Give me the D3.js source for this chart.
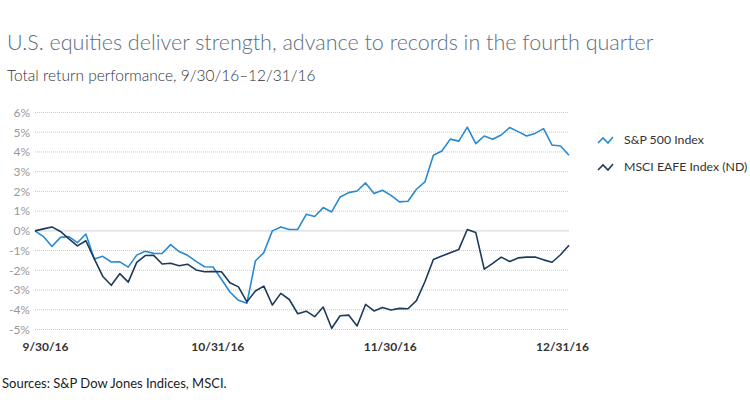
<!DOCTYPE html>
<html>
<head>
<meta charset="utf-8">
<script src="https://cdn.jsdelivr.net/npm/d3@7"></script>
<style>
  body { margin: 0; background: #fff; }
  svg { display: block; font-family: Lato, "Open Sans", sans-serif; }
</style>
</head>
<body>
<div id="chart"></div>
<script>
// chart data, one value per trading day from 9/30/16 to 12/30/16
var seriesNames = ["S&P 500 Index", "MSCI EAFE Index (ND)"];
var seriesColors = ["#2a8ad0", "#1b3a5c"];

var sp500 = [0, -0.29, -0.79, -0.33, -0.29, -0.6, -0.16, -1.43, -1.29, -1.58,
  -1.57, -1.84, -1.23, -1.03, -1.14, -1.15, -0.7, -1.05, -1.24, -1.55,
  -1.82, -1.83, -2.45, -3.1, -3.52, -3.67, -1.53, -1.1, 0.0, 0.2,
  0.07, 0.07, 0.84, 0.73, 1.18, 0.96, 1.72, 1.94, 2.02, 2.43,
  1.89, 2.06, 1.8, 1.47, 1.5, 2.11, 2.48, 3.83, 4.05, 4.65,
  4.55, 5.26, 4.42, 4.81, 4.64, 4.86, 5.24, 5.03, 4.81, 4.94,
  5.18, 4.35, 4.3, 3.83];

var eafe = [0, 0.1, 0.2, -0.03, -0.41, -0.76, -0.5, -1.42, -2.31, -2.76,
  -2.17, -2.6, -1.6, -1.25, -1.24, -1.68, -1.64, -1.77, -1.69, -1.98,
  -2.07, -2.06, -2.07, -2.63, -2.84, -3.6, -3.05, -2.8, -3.76, -3.17,
  -3.48, -4.2, -4.07, -4.35, -3.86, -4.94, -4.3, -4.27, -4.82, -3.73,
  -4.06, -3.88, -4.01, -3.93, -3.95, -3.54, -2.58, -1.45, -1.28, -1.11,
  -0.94, 0.07, -0.08, -1.94, -1.65, -1.33, -1.55, -1.37, -1.33, -1.33,
  -1.47, -1.59, -1.21, -0.73];

var xTickIndex = [0, 21, 42, 63];
var xTickLabels = ["9/30/16", "10/31/16", "11/30/16", "12/31/16"];
var yTicks = [-5, -4, -3, -2, -1, 0, 1, 2, 3, 4, 5, 6];

var title = "U.S. equities deliver strength, advance to records in the fourth quarter";
var subtitle = "Total return performance, 9/30/16\u201312/31/16";
var source = "Sources: S&P Dow Jones Indices, MSCI.";

var width = 750, height = 419;
var margin = {top: 112.5, right: 181, bottom: 89.5, left: 35};
var _width = width - margin.left - margin.right,
    _height = height - margin.top - margin.bottom;

var svg = d3.select("#chart")
  .append("svg")
  .attr("width", width)
  .attr("height", height);

// titles
svg.append("text")
  .attr("x", 7).attr("y", 50)
  .attr("fill", "#5b6f80")
  .attr("font-size", 21.5)
  .attr("font-weight", 300)
  .text(title);

svg.append("text")
  .attr("x", 7).attr("y", 81)
  .attr("fill", "#333")
  .attr("font-size", 15.5)
  .attr("font-weight", 300)
  .text(subtitle);

svg.append("text")
  .attr("x", 2).attr("y", 388)
  .attr("fill", "#222")
  .attr("font-size", 13)
  .text(source);

var g = svg.append("g")
  .attr("transform", "translate(" + margin.left + "," + margin.top + ")");

var xScale = d3.scaleLinear()
  .domain([0, sp500.length - 1])
  .range([0, _width]);

var yScale = d3.scaleLinear()
  .domain([-5, 6])
  .range([_height, 0]);

// gridlines
g.append("g")
  .selectAll("line")
  .data(yTicks)
  .enter().append("line")
  .attr("x1", 0)
  .attr("x2", _width)
  .attr("y1", function(d) { return yScale(d); })
  .attr("y2", function(d) { return yScale(d); })
  .attr("stroke", function(d) { return d === 0 ? "#e6e6e6" : "#c8c8c8"; })
  .attr("stroke-width", function(d) { return d === 0 ? 2 : 1; })
  .attr("stroke-dasharray", function(d) { return d === 0 ? null : "1,1"; });

// y axis labels
g.append("g")
  .call(d3.axisLeft(yScale)
    .tickValues(yTicks)
    .tickSize(0)
    .tickPadding(5)
    .tickFormat(function(d) { return d + "%"; }))
  .call(function(a) { a.select(".domain").remove(); })
  .selectAll("text")
  .attr("fill", "#999")
  .attr("font-size", 12)
  .attr("font-family", "Lato, sans-serif");

// x axis labels, slightly inset from the line ends
var xLabelScale = d3.scaleLinear()
  .domain([0, sp500.length - 1])
  .range([10, _width - 7]);

g.append("g")
  .attr("transform", "translate(0," + _height + ")")
  .call(d3.axisBottom(xLabelScale)
    .tickValues(xTickIndex)
    .tickSize(0)
    .tickPadding(13)
    .tickFormat(function(d, i) { return xTickLabels[i]; }))
  .call(function(a) { a.select(".domain").remove(); })
  .selectAll("text")
  .attr("fill", "#333")
  .attr("font-size", 12)
  .attr("font-weight", 700)
  .attr("font-family", "Lato, sans-serif");

// lines
var line = d3.line()
  .x(function(d, i) { return xScale(i); })
  .y(function(d) { return yScale(d); });

[sp500, eafe].forEach(function(s, k) {
  g.append("path")
    .datum(s)
    .attr("fill", "none")
    .attr("stroke", seriesColors[k])
    .attr("stroke-width", 1.6)
    .attr("stroke-linejoin", "round")
    .attr("d", line);
});

// legend
var iconShape = [[0, 6], [5, 1], [10, 6], [15, 0]];
var legend = svg.append("g")
  .attr("transform", "translate(598,137)");

seriesNames.forEach(function(name, k) {
  var row = legend.append("g")
    .attr("transform", "translate(0," + (k * 27) + ")");
  row.append("path")
    .attr("d", d3.line()(iconShape))
    .attr("fill", "none")
    .attr("stroke", seriesColors[k])
    .attr("stroke-width", 1.6);
  row.append("text")
    .attr("x", 26).attr("y", 7)
    .attr("fill", "#333")
    .attr("font-size", 12.3)
    .text(name);
});
</script>
</body>
</html>
